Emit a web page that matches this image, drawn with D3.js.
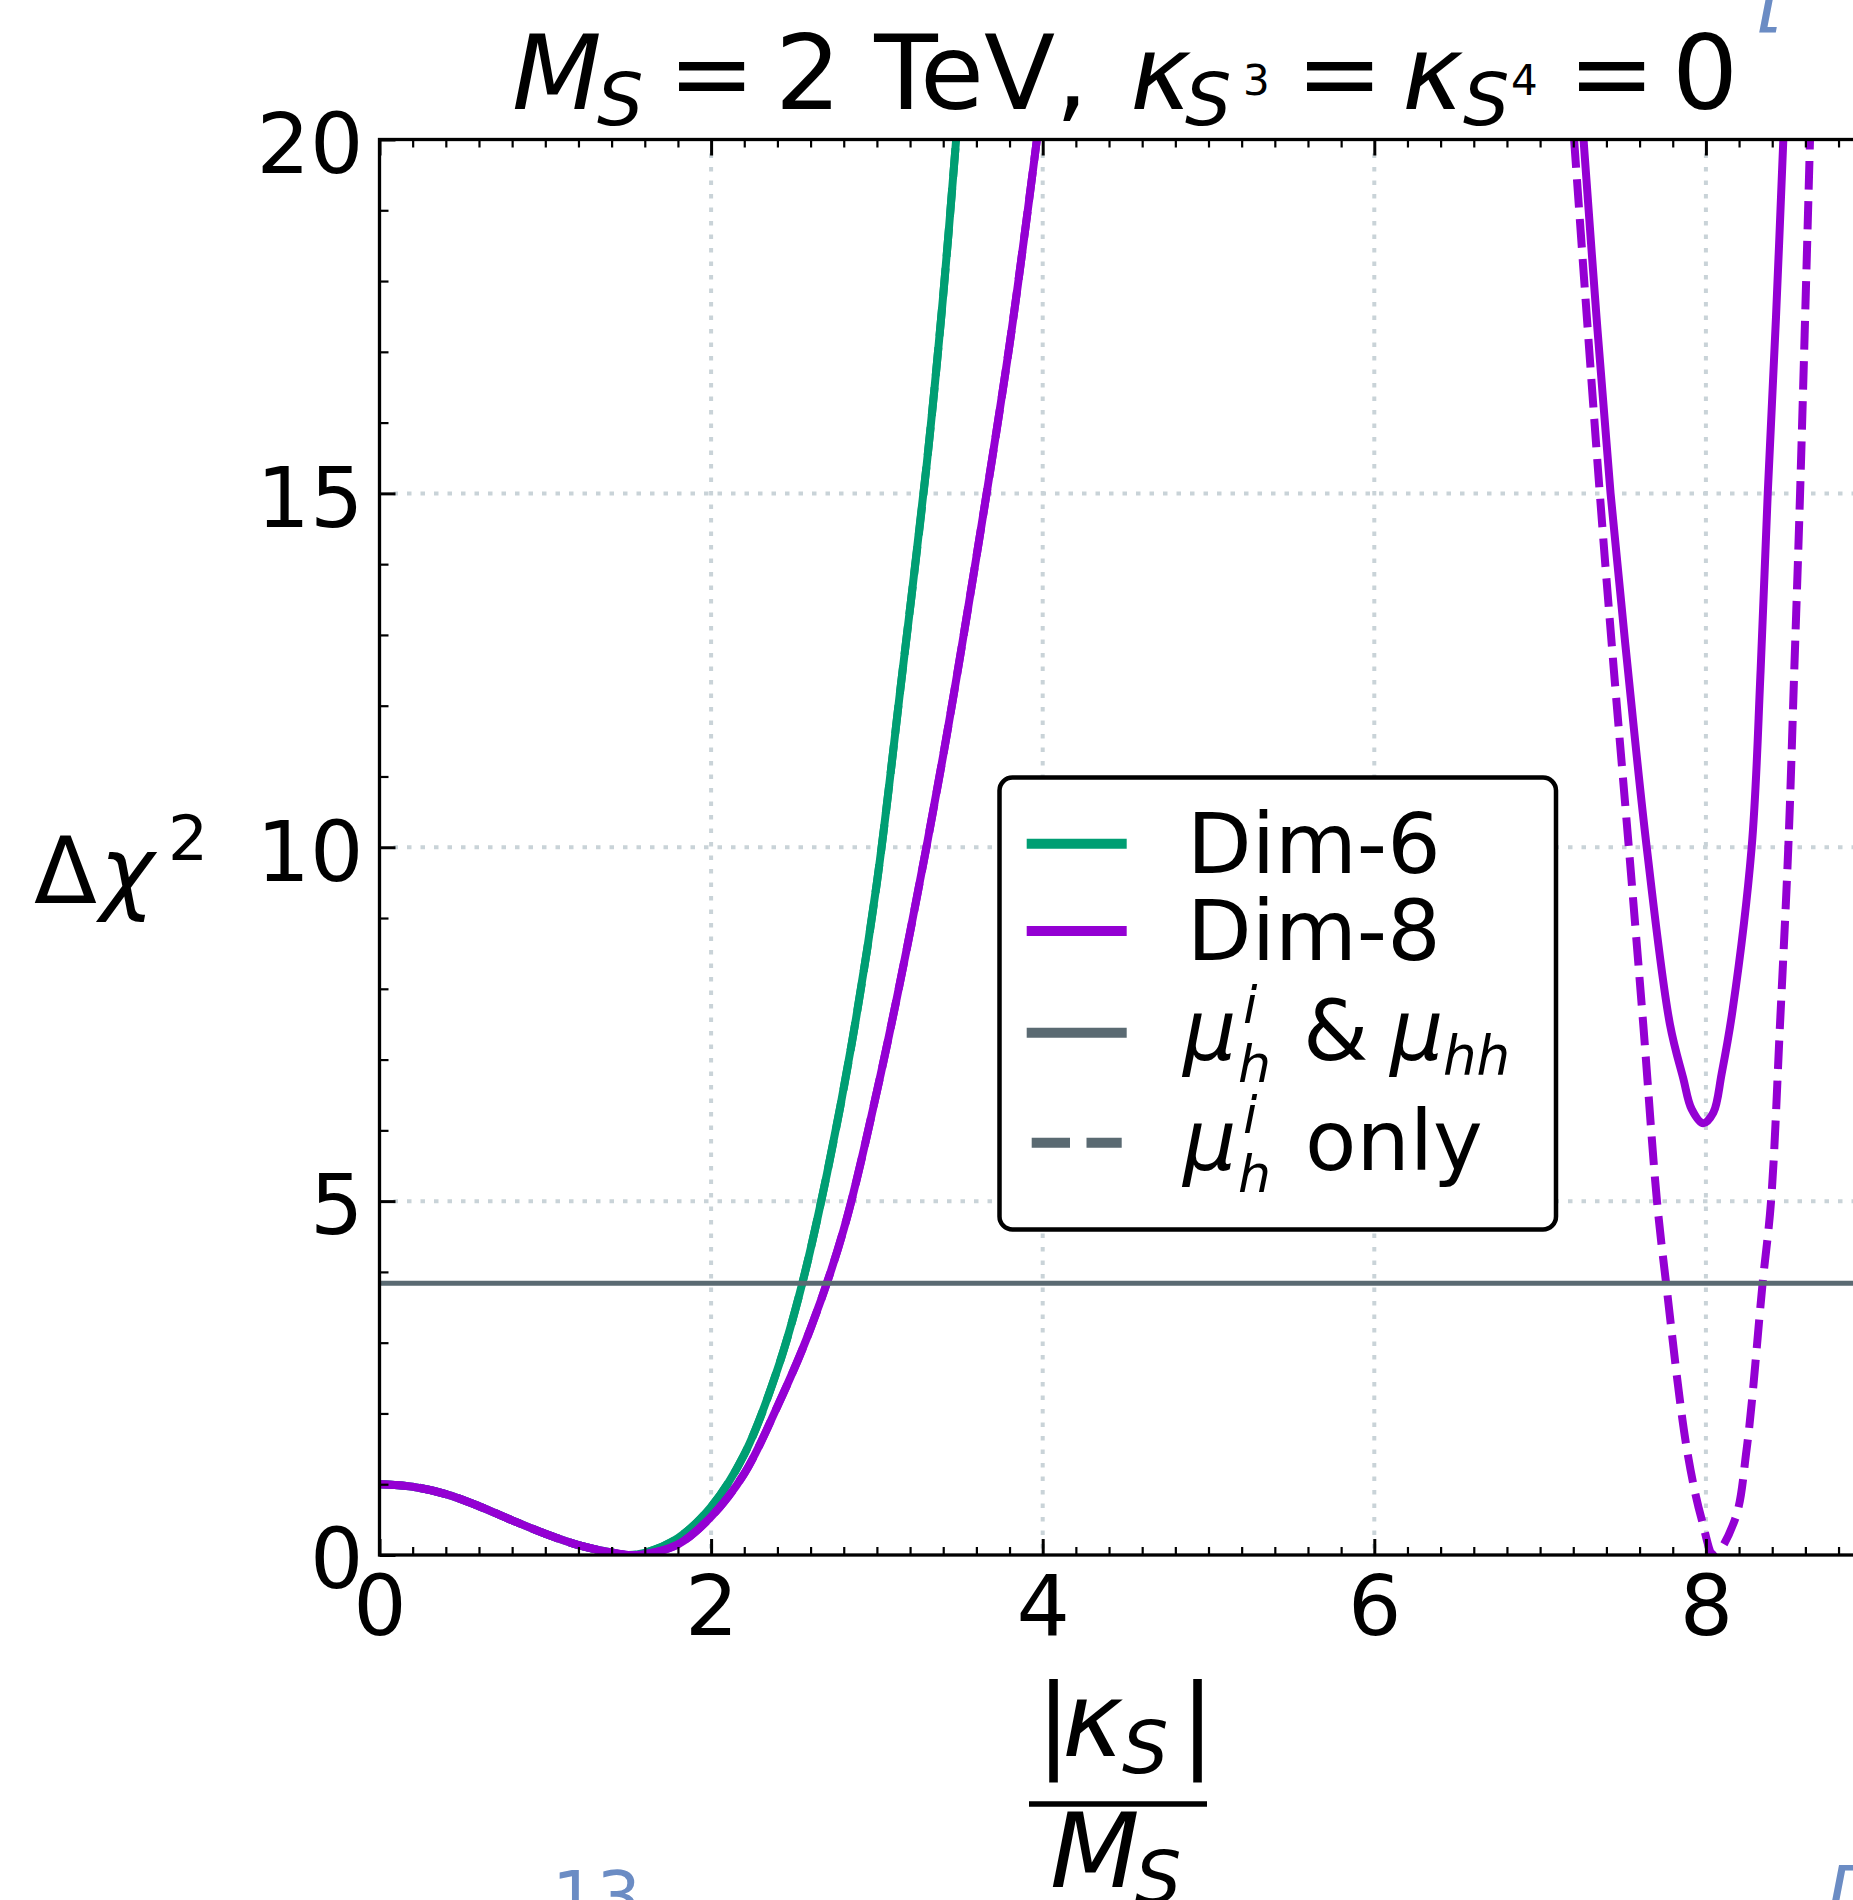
<!DOCTYPE html>
<html>
<head>
<meta charset="utf-8">
<script src="https://cdn.jsdelivr.net/npm/d3@7"></script>
<style>
  body { margin: 0; background: #fff; }
  svg { display: block; }
  text { font-family: "DejaVu Sans", sans-serif; }
</style>
</head>
<body>
<div id="chart"></div>
<script>
// values: |kappa_S|/M_S and delta chi^2
var dim6K   = [0, 0.2, 0.4, 0.6, 0.8, 1.0, 1.2, 1.4, 1.5, 1.6, 1.8, 2.0, 2.2, 2.4, 2.55, 2.7, 2.85, 3.0, 3.15, 3.3, 3.4, 3.478];
var dim6Chi = [1.0, 0.965, 0.86, 0.69, 0.49, 0.30, 0.14, 0.035, 0.0, 0.03, 0.24, 0.68, 1.42, 2.62, 3.84, 5.4, 7.25, 9.5, 12.4, 15.4, 17.8, 20.0];

var dim8K   = [0, 0.2, 0.4, 0.6, 0.8, 1.0, 1.2, 1.4, 1.5, 1.6, 1.8, 2.0, 2.2, 2.4, 2.6, 2.8, 3.0, 3.2, 3.4, 3.6, 3.8, 3.965];
var dim8Chi = [1.0, 0.965, 0.86, 0.69, 0.49, 0.30, 0.14, 0.035, 0.0, 0.01, 0.15, 0.54, 1.15, 2.1, 3.2, 4.6, 6.55, 8.8, 11.3, 14.1, 17.1, 20.0];

// second minimum of the dim-8 fit: with mu_hh (solid) and mu_h only (dashed)
var dim8bK   = [7.262, 7.34, 7.425, 7.53, 7.643, 7.783, 7.864, 7.914, 7.984, 8.045, 8.095, 8.161, 8.276, 8.33, 8.373, 8.423, 8.467];
var dim8bChi = [20, 17.5, 15, 12.5, 10, 7.5, 6.73, 6.3, 6.1, 6.25, 6.8, 7.7, 10, 12.5, 15, 17.5, 20];

var dim8cK   = [7.205, 7.36, 7.445, 7.535, 7.622, 7.705, 7.76, 7.885, 7.975, 8.05, 8.175, 8.246, 8.342, 8.393, 8.447, 8.497, 8.533, 8.568, 8.628];
var dim8cChi = [20, 15, 12.5, 10, 7.5, 5, 3.84, 1.5, 0.5, 0.0, 0.5, 1.5, 3.84, 5, 7.5, 10, 12.5, 15, 20];

var cl95 = 3.84;

var xMajor = [0, 2, 4, 6, 8];
var yMajor = [0, 5, 10, 15, 20];
var legendLabels = ["Dim-6", "Dim-8"];

(function() {
var W = 1853, H = 1900;
var green = "#009e73", purple = "#9400d3", slate = "#5a6a72", gridCol = "#c9d3d8";

var x = d3.scaleLinear().domain([0, 9]).range([379.5, 1871.7]);
var y = d3.scaleLinear().domain([0, 20]).range([1555, 139.5]);

var svg = d3.select("#chart").append("svg")
  .attr("width", W)
  .attr("height", H);

svg.append("defs").append("clipPath").attr("id", "plotclip")
  .append("rect")
  .attr("x", x(0)).attr("y", y(20))
  .attr("width", x(9) - x(0)).attr("height", y(0) - y(20));

// grid
var grid = svg.append("g");
grid.selectAll(".gx").data(xMajor.slice(1)).enter().append("line")
  .attr("x1", function(d) { return x(d); })
  .attr("x2", function(d) { return x(d); })
  .attr("y1", y(20) + 14).attr("y2", y(0))
  .attr("stroke", gridCol).attr("stroke-width", 4)
  .attr("stroke-dasharray", "4.5,9");
grid.selectAll(".gy").data(yMajor.slice(1, 4)).enter().append("line")
  .attr("y1", function(d) { return y(d); })
  .attr("y2", function(d) { return y(d); })
  .attr("x1", x(0) + 14).attr("x2", x(9))
  .attr("stroke", gridCol).attr("stroke-width", 4)
  .attr("stroke-dasharray", "4.5,9");

// curves
function pairs(k, c) { return k.map(function(v, i) { return [v, c[i]]; }); }
var line = d3.line()
  .x(function(d) { return x(d[0]); })
  .y(function(d) { return y(d[1]); })
  .curve(d3.curveCatmullRom.alpha(0.5));

var plot = svg.append("g").attr("clip-path", "url(#plotclip)");
var series = [
  {d: pairs(dim6K, dim6Chi), c: green, dash: null},
  {d: pairs(dim6K, dim6Chi), c: green, dash: "28.5,11.5"},
  {d: pairs(dim8K, dim8Chi), c: purple, dash: null},
  {d: pairs(dim8K, dim8Chi), c: purple, dash: "28.5,11.5"},
  {d: pairs(dim8bK, dim8bChi), c: purple, dash: null},
  {d: pairs(dim8cK, dim8cChi), c: purple, dash: "28.5,11.5"}
];
series.forEach(function(s) {
  plot.append("path")
    .attr("d", line(s.d))
    .attr("fill", "none")
    .attr("stroke", s.c)
    .attr("stroke-width", 8)
    .attr("stroke-dasharray", s.dash);
});

plot.append("line")
  .attr("x1", x(0)).attr("x2", x(9))
  .attr("y1", y(cl95)).attr("y2", y(cl95))
  .attr("stroke", slate).attr("stroke-width", 5);

// axes, ticks pointing inward
var minorX = d3.range(0, 9.01, 0.2).filter(function(v) { return Math.abs(v / 2 - Math.round(v / 2)) > 1e-6; });
var minorY = d3.range(0, 21, 1).filter(function(v) { return v % 5 !== 0; });

function styleAxis(g, w) {
  g.select(".domain").remove();
  g.selectAll(".tick line").attr("stroke", "#000").attr("stroke-width", w);
  g.selectAll(".tick text").attr("font-size", 84).attr("fill", "#000")
    .attr("font-family", "DejaVu Sans");
}

var axBottom = svg.append("g").attr("transform", "translate(0," + y(0) + ")")
  .call(d3.axisBottom(x).tickValues(xMajor).tickSize(-16).tickSizeOuter(0).tickPadding(20.5).tickFormat(d3.format("d")));
styleAxis(axBottom, 3);
axBottom.selectAll(".tick text").attr("dy", "0.71em");
var axBottomMinor = svg.append("g").attr("transform", "translate(0," + y(0) + ")")
  .call(d3.axisBottom(x).tickValues(minorX).tickSize(-8).tickSizeOuter(0).tickFormat(""));
styleAxis(axBottomMinor, 2.2);

var axTop = svg.append("g").attr("transform", "translate(0," + y(20) + ")")
  .call(d3.axisTop(x).tickValues(xMajor).tickSize(-16).tickSizeOuter(0).tickFormat(""));
styleAxis(axTop, 3);
var axTopMinor = svg.append("g").attr("transform", "translate(0," + y(20) + ")")
  .call(d3.axisTop(x).tickValues(minorX).tickSize(-8).tickSizeOuter(0).tickFormat(""));
styleAxis(axTopMinor, 2.2);

var axLeft = svg.append("g").attr("transform", "translate(" + x(0) + ",0)")
  .call(d3.axisLeft(y).tickValues(yMajor).tickSize(-16).tickSizeOuter(0).tickPadding(16).tickFormat(d3.format("d")));
styleAxis(axLeft, 3);
axLeft.selectAll(".tick text").attr("dy", "0.39em");
var axLeftMinor = svg.append("g").attr("transform", "translate(" + x(0) + ",0)")
  .call(d3.axisLeft(y).tickValues(minorY).tickSize(-9).tickSizeOuter(0).tickFormat(""));
styleAxis(axLeftMinor, 2.2);

// spines
svg.append("rect")
  .attr("x", x(0)).attr("y", y(20))
  .attr("width", x(9) - x(0)).attr("height", y(0) - y(20))
  .attr("fill", "none").attr("stroke", "#000").attr("stroke-width", 3.3);

// legend
var leg = svg.append("g");
leg.append("rect")
  .attr("x", 999.5).attr("y", 777.5).attr("width", 556.5).attr("height", 452)
  .attr("rx", 13).attr("fill", "#fff").attr("stroke", "#000").attr("stroke-width", 4.5);

var handles = [
  {y: 843.7, c: green, dash: null},
  {y: 931, c: purple, dash: null},
  {y: 1032.7, c: slate, dash: null},
  {y: 1142.7, c: slate, dash: "38.3,16.5"}
];
leg.selectAll(".h").data(handles).enter().append("line")
  .attr("x1", 1031.7).attr("x2", 1121.7)
  .attr("y1", function(d) { return d.y; })
  .attr("y2", function(d) { return d.y; })
  .attr("stroke", function(d) { return d.c; })
  .attr("stroke-width", 10)
  .attr("stroke-linecap", function(d) { return d.dash ? "butt" : "square"; })
  .attr("stroke-dasharray", function(d) { return d.dash; });

leg.selectAll(".lt").data(legendLabels).enter().append("text")
  .attr("x", 1187).attr("y", function(d, i) { return [873, 960][i]; })
  .attr("font-size", 84).text(function(d) { return d; });

function mathText(g, parts) {
  parts.forEach(function(p) {
    g.append("text")
      .attr("x", p.x).attr("y", p.y)
      .attr("font-size", p.s)
      .attr("font-style", p.it ? "italic" : "normal")
      .attr("fill", p.c || "#000")
      .text(p.t);
  });
}

mathText(leg, [
  {t: "\u03bc", x: 1183, y: 1060, s: 84, it: true},
  {t: "i", x: 1243, y: 1023, s: 52, it: true},
  {t: "h", x: 1238, y: 1082, s: 52, it: true},
  {t: "&", x: 1303, y: 1060, s: 84},
  {t: "\u03bc", x: 1390, y: 1060, s: 84, it: true},
  {t: "hh", x: 1443, y: 1074, s: 53, it: true},
  {t: "\u03bc", x: 1183, y: 1170, s: 84, it: true},
  {t: "i", x: 1243, y: 1133, s: 52, it: true},
  {t: "h", x: 1238, y: 1192, s: 52, it: true},
  {t: "only", x: 1305, y: 1170, s: 84}
]);

// title
mathText(svg, [
  {t: "M", x: 512, y: 109, s: 104, it: true},
  {t: "S", x: 597, y: 125, s: 73, it: true},
  {t: "=", x: 668, y: 109, s: 104},
  {t: "2 TeV,", x: 775, y: 109, s: 104},
  {t: "\u03ba", x: 1130, y: 109, s: 104, it: true},
  {t: "S", x: 1185, y: 125, s: 73, it: true},
  {t: "3", x: 1243, y: 95, s: 42},
  {t: "=", x: 1296, y: 109, s: 104},
  {t: "\u03ba", x: 1402, y: 109, s: 104, it: true},
  {t: "S", x: 1463, y: 125, s: 73, it: true},
  {t: "4", x: 1511, y: 95, s: 42},
  {t: "=", x: 1568, y: 109, s: 104},
  {t: "0", x: 1672, y: 109, s: 104}
]);

// y label
mathText(svg, [
  {t: "\u0394", x: 34, y: 903, s: 92},
  {t: "\u03c7", x: 100, y: 903, s: 92, it: true},
  {t: "2", x: 168, y: 860, s: 63}
]);

// x label as a fraction
mathText(svg, [
  {t: "|", x: 1036, y: 1758, s: 104},
  {t: "\u03ba", x: 1062, y: 1756, s: 104, it: true},
  {t: "S", x: 1122, y: 1773, s: 73, it: true},
  {t: "|", x: 1180, y: 1758, s: 104},
  {t: "M", x: 1050, y: 1887, s: 104, it: true},
  {t: "S", x: 1135, y: 1903, s: 73, it: true}
]);
svg.append("line")
  .attr("x1", 1029).attr("x2", 1207)
  .attr("y1", 1804).attr("y2", 1804)
  .attr("stroke", "#000").attr("stroke-width", 5.5);

// fragments of neighbouring page text cut by the crop
mathText(svg, [
  {t: "[\u2019", x: 1756, y: 22, s: 80, it: true, c: "#6b8cc4"},
  {t: "13", x: 552, y: 1921, s: 70, c: "#6b8cc4"},
  {t: "[", x: 1822, y: 1926, s: 80, it: true, c: "#6b8cc4"}
]);
})();
</script>
</body>
</html>
